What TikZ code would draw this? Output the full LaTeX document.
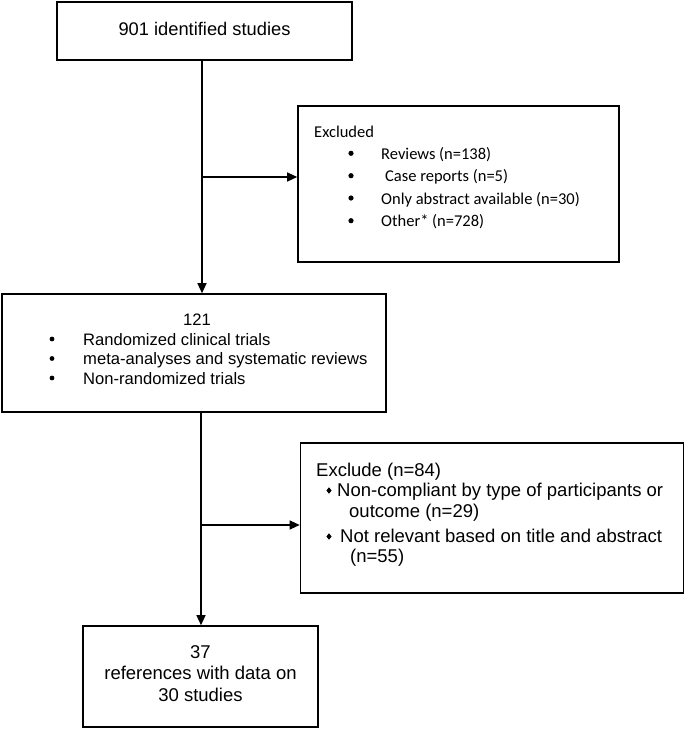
\documentclass[tikz,border=0pt]{standalone}
\usepackage{fontspec}
\setmainfont{Liberation Sans}
\newfontfamily\calfont{Carlito}
\usetikzlibrary{arrows.meta}
\begin{document}
\begin{tikzpicture}[x=1pt,y=-1pt,
  box/.style={draw=black,line width=1.6pt,inner sep=0pt,fill=none},
  conn/.style={draw=black,line width=1.2pt},
  arr/.style={conn,-{Triangle[length=10pt,width=9pt]}},
  txt/.style={inner sep=0pt,anchor=base west,text=black},
  ctxt/.style={inner sep=0pt,anchor=base,text=black},
  fa/.style={font=\fontsize{18.3}{22}\selectfont},
  fb/.style={font=\calfont\fontsize{16.5}{20}\selectfont},
  fc/.style={font=\fontsize{16.6}{20}\selectfont},
  fd/.style={font=\fontsize{18.5}{22}\selectfont},
  dot/.style={fill=black}
]
\useasboundingbox (0,0) rectangle (685,729);
% boxes
\node[box,minimum width=295pt,minimum height=58pt] (b1) at (204.5,31) {};
\node[box,minimum width=321pt,minimum height=156pt] (b2) at (458.5,184) {};
\node[box,minimum width=384pt,minimum height=118pt] (b3) at (194,353) {};
\node[box,minimum width=383pt,minimum height=150pt] (b4) at (492,518) {};
\node[box,minimum width=235pt,minimum height=101pt] (b5) at (200.5,676.5) {};
% junctions
\coordinate (j1) at (202,177);
\coordinate (j2) at (201,525);
% connectors
\draw[arr] (b1.south -| j1) -- (b3.north -| j1);
\draw[arr] (j1) -- (j1 -| b2.west);
\draw[arr] (b3.south -| j2) -- (b5.north -| j2);
\draw[arr] (j2) -- (j2 -| b4.west);
% box 1
\node[ctxt,fa] (t1) at (204.5,35) {901 identified studies};
% box 2
\node[txt,fb] (t2a) at (314,137.7) {Excluded};
\node[txt,fb] (t2b) at (381,159.3) {Reviews (n=138)};
\node[txt,fb] (t2c) at (385,181.7) {Case reports (n=5)};
\node[txt,fb] (t2d) at (381,204) {Only abstract available (n=30)};
\node[txt,fb] (t2e) at (381,226.7) {Other* (n=728)};
\foreach \yy in {153.3,175.7,198,220.7} \fill[dot] (351,\yy) circle (2.6pt);
% box 3
\node[ctxt,fc] (t3a) at (197,325) {121};
\node[txt,fc] (t3b) at (83,345) {Randomized clinical trials};
\node[txt,fc] (t3c) at (83,364.5) {meta-analyses and systematic reviews};
\node[txt,fc] (t3d) at (83,384) {Non-randomized trials};
\foreach \yy in {339,358.5,378} \fill[dot] (52,\yy) circle (2.4pt);
% box 4
\node[txt,fd] (t4a) at (316,476.5) {Exclude (n=84)};
\node[txt,fd] (t4b) at (337,496.7) {Non-compliant by type of participants or};
\node[txt,fd] (t4c) at (349,517) {outcome (n=29)};
\node[txt,fd] (t4d) at (340,542.7) {Not relevant based on title and abstract};
\node[txt,fd] (t4e) at (350,562.7) {(n=55)};
\foreach \yy in {490.5,536.5} \fill[dot] (329,\yy-3.2) -- (331.6,\yy) -- (329,\yy+3.2) -- (326.4,\yy) -- cycle;
% box 5
\node[ctxt,fd] (t5a) at (200.5,658) {37};
\node[ctxt,fd] (t5b) at (200.5,679.5) {references with data on};
\node[ctxt,fd] (t5c) at (200.5,701) {30 studies};
\end{tikzpicture}
\end{document}
